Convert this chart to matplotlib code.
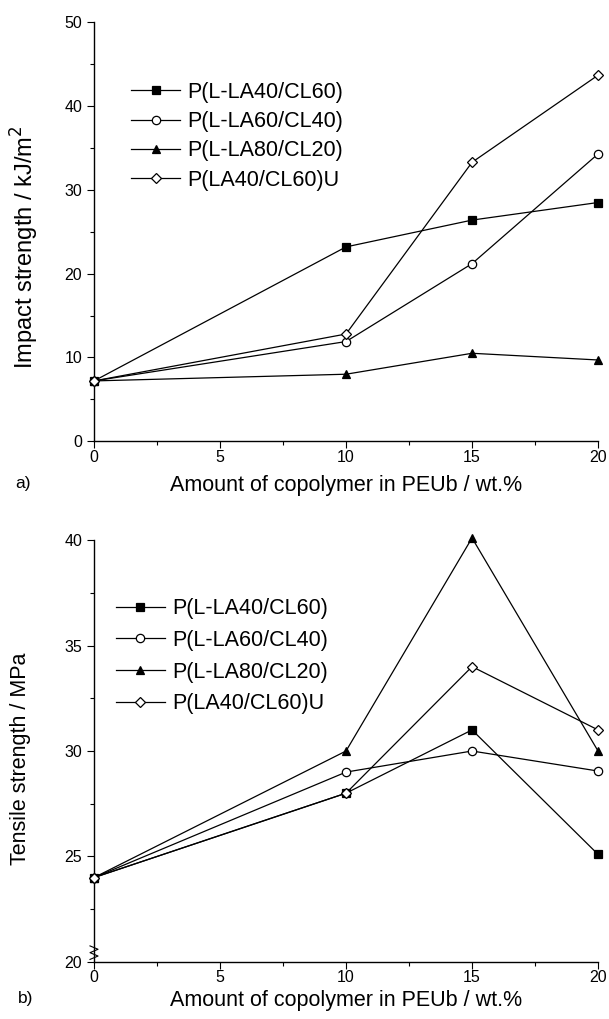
import matplotlib
matplotlib.use("Agg")
import matplotlib.pyplot as plt
from matplotlib.ticker import MultipleLocator

plt.rcParams['font.family'] = ['Liberation Sans', 'DejaVu Sans']

# data
amount = [0, 10, 15, 20]
names = ["P(L-LA40/CL60)", "P(L-LA60/CL40)", "P(L-LA80/CL20)", "P(LA40/CL60)U"]
impact_sq = [7.2, 23.2, 26.4, 28.5]
impact_ci = [7.2, 11.9, 21.2, 34.3]
impact_tr = [7.2, 8.0, 10.5, 9.7]
impact_di = [7.2, 12.8, 33.3, 43.7]
tensile_sq = [24.0, 28.0, 31.0, 25.1]
tensile_ci = [24.0, 29.0, 30.0, 29.05]
tensile_tr = [24.0, 30.0, 40.1, 30.0]
tensile_di = [24.0, 28.0, 34.0, 31.0]

styles = [dict(marker="s", mfc="black"),
          dict(marker="o", mfc="white"),
          dict(marker="^", mfc="black"),
          dict(marker="D", mfc="white", markersize=5.5)]

LABEL_FS = 15.5

fig = plt.figure(figsize=(6.09, 10.19), dpi=100)
ax1 = fig.add_axes([0.1544, 0.567, 0.8276, 0.411])
ax2 = fig.add_axes([0.1544, 0.056, 0.8276, 0.414])


def style_axes(ax, xpad, xlabelpad):
    for s in ["top", "right"]:
        ax.spines[s].set_visible(False)
    for s in ["left", "bottom"]:
        ax.spines[s].set_linewidth(1.0)
    ax.xaxis.set_major_locator(MultipleLocator(5))
    ax.xaxis.set_minor_locator(MultipleLocator(2.5))
    ax.tick_params(which="major", direction="out", length=5, width=0.8,
                   labelsize=11.5)
    ax.tick_params(which="minor", direction="out", length=3, width=0.8)
    ax.tick_params(axis="x", which="major", pad=xpad)
    ax.set_xlim(0, 20)
    ax.set_xlabel("Amount of copolymer in PEUb / wt.%", fontsize=LABEL_FS,
                  labelpad=xlabelpad)


def draw(ax, series):
    for name, vals, st in zip(names, series, styles):
        kw = dict(color="black", lw=0.9, markersize=6, mec="black", mew=0.9)
        kw.update(st)
        ax.plot(amount, vals, label=name, clip_on=False, zorder=3, **kw)


# a) impact strength
draw(ax1, [impact_sq, impact_ci, impact_tr, impact_di])
style_axes(ax1, 1.5, 7)
ax1.set_ylim(0, 50)
ax1.yaxis.set_major_locator(MultipleLocator(10))
ax1.yaxis.set_minor_locator(MultipleLocator(5))
ax1.set_ylabel("Impact strength / kJ/m$^2$", fontsize=17, labelpad=17)
ax1.yaxis.label.set_y(0.463)
ax1.legend(loc="upper left", bbox_to_anchor=(0.215, 0.9195),
           bbox_transform=fig.transFigure, frameon=False, fontsize=LABEL_FS,
           handlelength=2.3, handletextpad=0.33, labelspacing=0.38,
           borderaxespad=0, borderpad=0)
fig.text(0.025, 0.521, "a)", fontsize=12.5)

# b) tensile strength
draw(ax2, [tensile_sq, tensile_ci, tensile_tr, tensile_di])
style_axes(ax2, 0.5, 4)
ax2.set_ylim(20, 40)
ax2.yaxis.set_major_locator(MultipleLocator(5))
ax2.yaxis.set_minor_locator(MultipleLocator(2.5))
ax2.set_ylabel("Tensile strength / MPa", fontsize=LABEL_FS, labelpad=24)
ax2.yaxis.label.set_y(0.481)
ax2.legend(loc="upper left", bbox_to_anchor=(0.19, 0.4131),
           bbox_transform=fig.transFigure, frameon=False, fontsize=LABEL_FS,
           handlelength=2.3, handletextpad=0.33, labelspacing=0.5,
           borderaxespad=0, borderpad=0)
fig.text(0.03, 0.016, "b)", fontsize=12.5)

# axis break mark on the tensile y axis
ax2.plot([-0.008, 0.008, -0.008, 0.008, -0.008],
         [0.006, 0.014, 0.022, 0.030, 0.038], color="black",
         lw=0.8, transform=ax2.transAxes, clip_on=False)

fig.savefig("out.png", dpi=100)
